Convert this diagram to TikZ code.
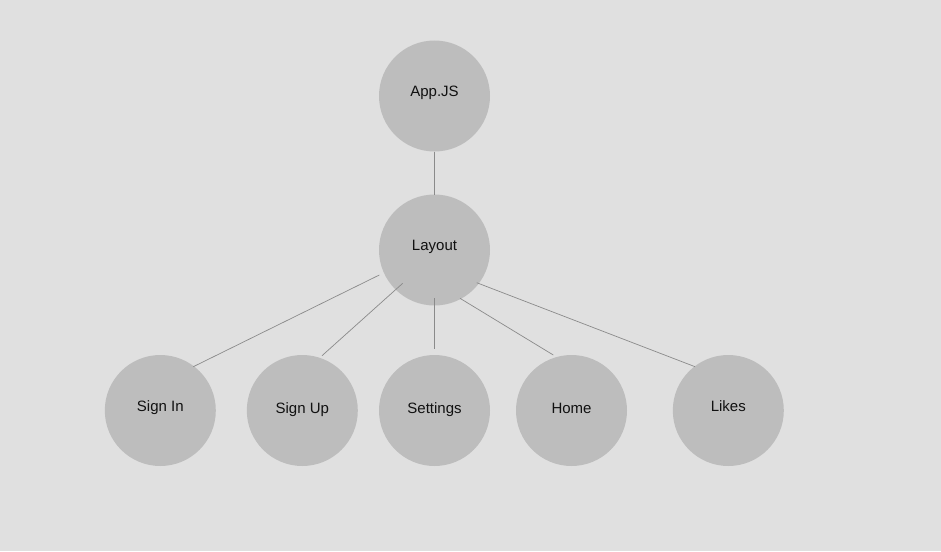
\documentclass[tikz,border=0pt]{standalone}
\usepackage{fontspec}
\setmainfont{Liberation Sans}
\definecolor{bgc}{HTML}{E0E0E0}
\definecolor{circc}{HTML}{BDBDBD}
\definecolor{linec}{HTML}{8A8A8A}
\definecolor{txtc}{HTML}{111111}
\begin{document}
\begin{tikzpicture}[x=1pt,y=-1pt,
  circ/.style={circle,fill=circc,draw=none,minimum size=111pt,inner sep=0pt,outer sep=0pt},
  lbl/.style={anchor=base,inner sep=0pt,text=txtc,font=\fontsize{15}{18}\selectfont},
  conn/.style={draw=linec,line width=0.7pt}]
\fill[bgc] (0,0) rectangle (941,551);
\useasboundingbox (0,0) rectangle (941,551);
\node[circ] (app) at (434.5,96) {};
\node[circ] (layout) at (434.5,250) {};
\node[circ] (signin) at (160.3,410.5) {};
\node[circ] (signup) at (302.3,410.5) {};
\node[circ] (settings) at (434.5,410.5) {};
\node[circ] (home) at (571.5,410.5) {};
\node[circ] (likes) at (728.3,410.5) {};
\node[lbl] (appT) at ([yshift=-0.7pt]app.center) {App.JS};
\node[lbl] (layoutT) at ([yshift=-0.7pt]layout.center) {Layout};
\node[lbl] (signinT) at ([yshift=-0.7pt]signin.center) {Sign In};
\node[lbl] (signupT) at ([yshift=-2.8pt]signup.center) {Sign Up};
\node[lbl] (settingsT) at ([yshift=-2.8pt]settings.center) {Settings};
\node[lbl] (homeT) at ([yshift=-2.8pt]home.center) {Home};
\node[lbl] (likesT) at ([yshift=-0.7pt]likes.center) {Likes};
\draw[conn] (app) -- (layout);
\draw[conn] ([shift={(-55.2,25)}]layout.center) -- ([shift={(33,-43.8)}]signin.center);
\draw[conn] ([shift={(-31.8,33.3)}]layout.center) -- ([shift={(19.7,-54.8)}]signup.center);
\draw[conn] ([shift={(0,48)}]layout.center) -- ([shift={(0,-61.5)}]settings.center);
\draw[conn] ([shift={(25.5,48.3)}]layout.center) -- ([shift={(-18.2,-55.5)}]home.center);
\draw[conn] ([shift={(42.2,32.7)}]layout.center) -- ([shift={(-33.3,-43.8)}]likes.center);
\end{tikzpicture}
\end{document}
